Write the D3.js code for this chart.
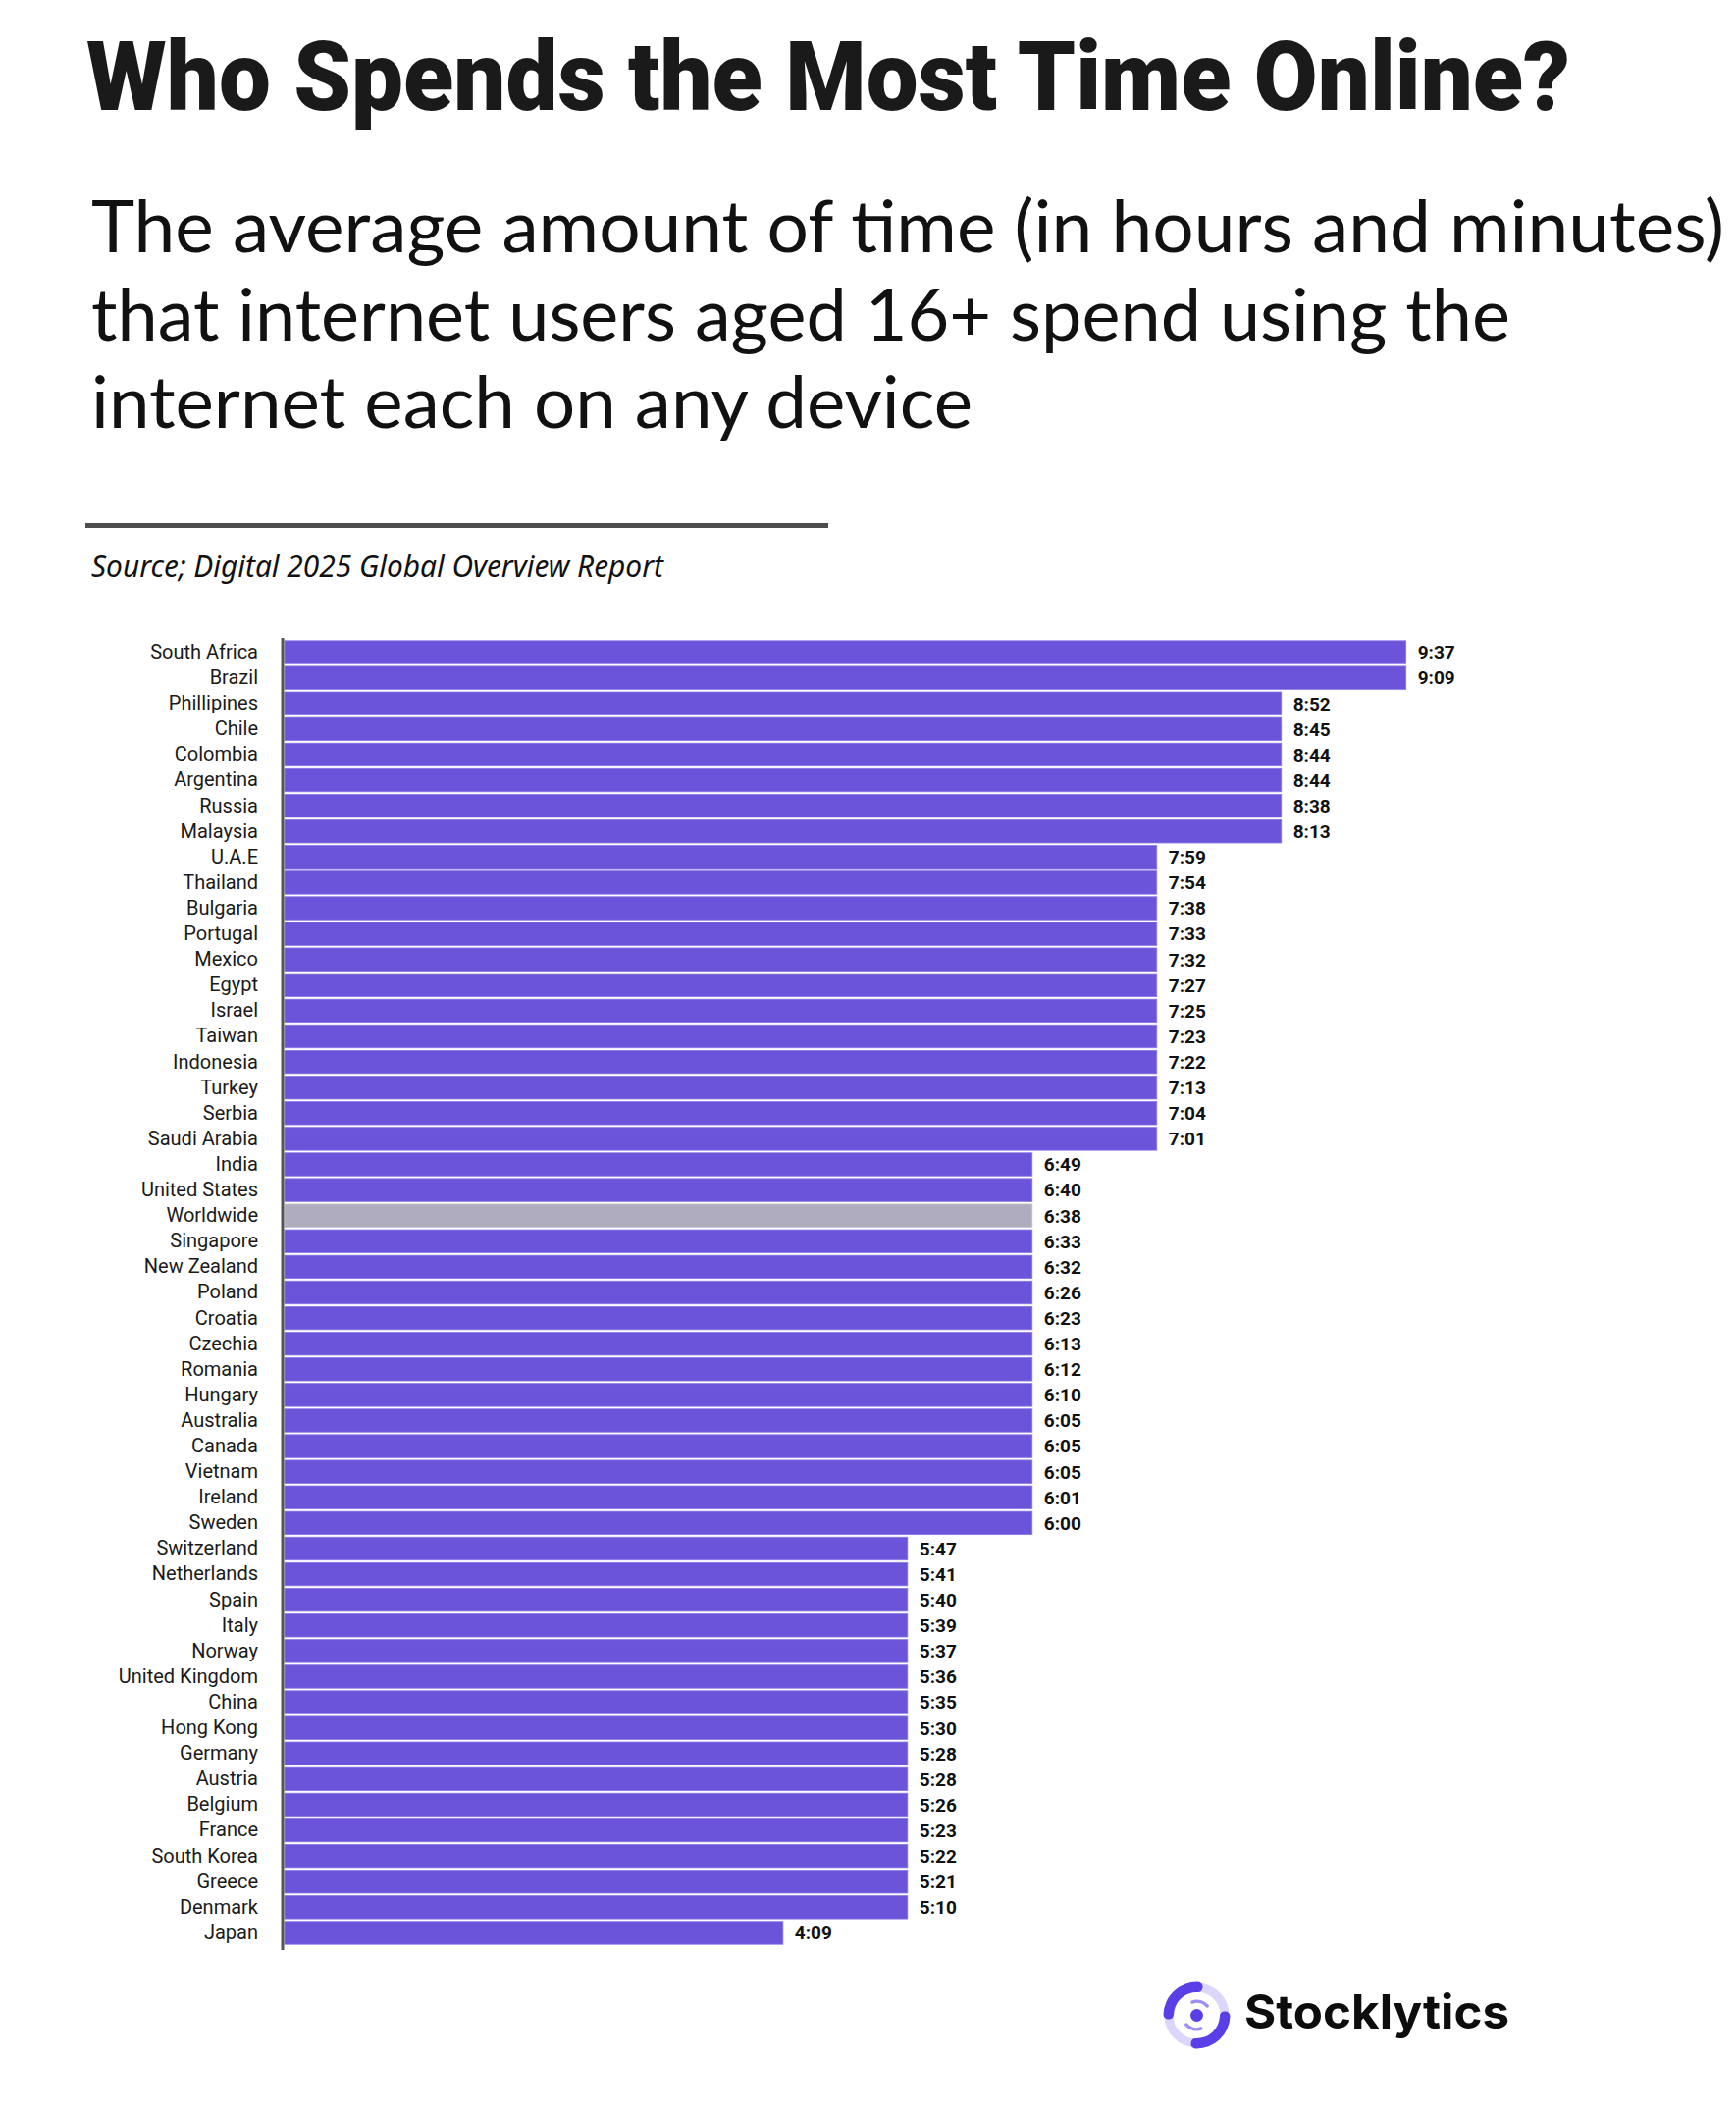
<!DOCTYPE html>
<html>
<head>
<meta charset="utf-8">
<script src="https://cdn.jsdelivr.net/npm/d3@7"></script>
<style>
  html, body { margin: 0; padding: 0; background: #ffffff; }
  svg { display: block; }
</style>
</head>
<body>
<script>
// ---------- DATA ----------
const countries = [
  "South Africa","Brazil","Phillipines","Chile","Colombia","Argentina","Russia","Malaysia",
  "U.A.E","Thailand","Bulgaria","Portugal","Mexico","Egypt","Israel","Taiwan","Indonesia",
  "Turkey","Serbia","Saudi Arabia","India","United States","Worldwide","Singapore",
  "New Zealand","Poland","Croatia","Czechia","Romania","Hungary","Australia","Canada",
  "Vietnam","Ireland","Sweden","Switzerland","Netherlands","Spain","Italy","Norway",
  "United Kingdom","China","Hong Kong","Germany","Austria","Belgium","France",
  "South Korea","Greece","Denmark","Japan"
];
const timeLabels = [
  "9:37","9:09","8:52","8:45","8:44","8:44","8:38","8:13",
  "7:59","7:54","7:38","7:33","7:32","7:27","7:25","7:23","7:22",
  "7:13","7:04","7:01","6:49","6:40","6:38","6:33",
  "6:32","6:26","6:23","6:13","6:12","6:10","6:05","6:05",
  "6:05","6:01","6:00","5:47","5:41","5:40","5:39","5:37",
  "5:36","5:35","5:30","5:28","5:28","5:26","5:23",
  "5:22","5:21","5:10","4:09"
];
const highlight = "Worldwide";
const titleText = "Who Spends the Most Time Online?";
const subtitleLines = [
  "The average amount of time (in hours and minutes)",
  "that internet users aged 16+ spend using the",
  "internet each on any device"
];
const sourceText = "Source; Digital 2025 Global Overview Report";
const brandText = "Stocklytics";

// bars in the reference are drawn to the whole-hour part of each time
const rows = countries.map((c, i) => ({
  country: c,
  label: timeLabels[i],
  hours: +timeLabels[i].split(":")[0]
}));

// ---------- LAYOUT ----------
const W = 1769, H = 2148;
const svg = d3.select("body").append("svg").attr("width", W).attr("height", H);

// Title
svg.append("text")
  .attr("x", 88).attr("y", 112)
  .attr("font-family", "Roboto, 'Noto Sans', sans-serif")
  .attr("font-weight", 900)
  .attr("font-size", 98)
  .attr("fill", "#1a1a1a")
  .attr("textLength", 1512)
  .attr("lengthAdjust", "spacingAndGlyphs")
  .text(titleText);

// Subtitle
const subBaselines = [257, 347, 436];
const subWidths = [1664, 1446, 898];
svg.append("g").selectAll("text").data(subtitleLines).join("text")
  .attr("x", 93)
  .attr("y", (d, i) => subBaselines[i])
  .attr("font-family", "Lato, 'Noto Sans', sans-serif")
  .attr("font-weight", 400)
  .attr("font-size", 74)
  .attr("fill", "#111")
  .attr("textLength", (d, i) => subWidths[i])
  .attr("lengthAdjust", "spacingAndGlyphs")
  .text(d => d);

// Separator
svg.append("line")
  .attr("x1", 87).attr("x2", 844)
  .attr("y1", 535.5).attr("y2", 535.5)
  .attr("stroke", "#4d4d4d").attr("stroke-width", 5);

// Source
svg.append("text")
  .attr("x", 93).attr("y", 588)
  .attr("font-family", "'Noto Sans', 'Open Sans', sans-serif")
  .attr("font-style", "italic")
  .attr("font-size", 31)
  .attr("fill", "#111")
  .attr("textLength", 583)
  .attr("lengthAdjust", "spacingAndGlyphs")
  .text(sourceText);

// ---------- CHART ----------
const x = d3.scaleLinear().domain([0, 9]).range([290, 1432.7]);
const y = d3.scaleBand().domain(countries).range([651.5, 1982.5])
  .paddingInner(0.1).paddingOuter(0.05);

const purple = "#6C54DA";
const grey = "#AFACBF";

svg.append("g").selectAll("rect").data(rows).join("rect")
  .attr("x", x(0))
  .attr("y", d => y(d.country))
  .attr("width", d => x(d.hours) - x(0))
  .attr("height", y.bandwidth())
  .attr("fill", d => d.country === highlight ? grey : purple)
  .attr("stroke", d => d.country === highlight ? "#c4c2d0" : "#8a78e6")
  .attr("stroke-width", 0.8);

// value labels
svg.append("g").selectAll("text").data(rows).join("text")
  .attr("x", d => x(d.hours) + 12)
  .attr("y", d => y(d.country) + y.bandwidth() / 2)
  .attr("dy", "0.36em")
  .attr("font-family", "Roboto, 'Noto Sans', sans-serif")
  .attr("font-weight", 700)
  .attr("font-size", 19)
  .attr("fill", "#111")
  .text(d => d.label);

// y axis
const yAxis = svg.append("g")
  .attr("transform", "translate(288,0)")
  .call(d3.axisLeft(y).tickSize(0).tickPadding(25));
yAxis.select(".domain")
  .attr("stroke", "#555").attr("stroke-width", 3)
  .attr("d", "M0,650V1987");
yAxis.selectAll(".tick text")
  .attr("font-family", "Roboto, 'Noto Sans', sans-serif")
  .attr("font-size", 20)
  .attr("fill", "#1a1a1a");

// ---------- BRAND ----------
const logo = svg.append("g").attr("transform", "translate(1219.5,2053.5)");
logo.append("circle").attr("r", 28.5)
  .attr("fill", "none").attr("stroke", "#DCD6FA").attr("stroke-width", 9);
const deg = Math.PI / 180;
const bigArc = d3.arc().innerRadius(23.5).outerRadius(34).cornerRadius(5);
[[-98, 12], [82, 192]].forEach(([a0, a1]) => {
  logo.append("path")
    .attr("d", bigArc({ startAngle: a0 * deg, endAngle: a1 * deg }))
    .attr("fill", "#5A3EE6");
});
const smallArc = d3.arc().innerRadius(12.5).outerRadius(16).cornerRadius(1.5);
[[-25, 55], [155, 235]].forEach(([a0, a1]) => {
  logo.append("path")
    .attr("d", smallArc({ startAngle: a0 * deg, endAngle: a1 * deg }))
    .attr("fill", "#9C8EF2");
});
logo.append("circle").attr("r", 6.5).attr("fill", "#5A3EE6");

svg.append("text")
  .attr("x", 1268).attr("y", 2067)
  .attr("font-family", "Inter, Roboto, sans-serif")
  .attr("font-weight", 700)
  .attr("font-size", 48)
  .attr("fill", "#0d0d0d")
  .attr("textLength", 270)
  .attr("lengthAdjust", "spacingAndGlyphs")
  .text(brandText);
</script>
</body>
</html>
